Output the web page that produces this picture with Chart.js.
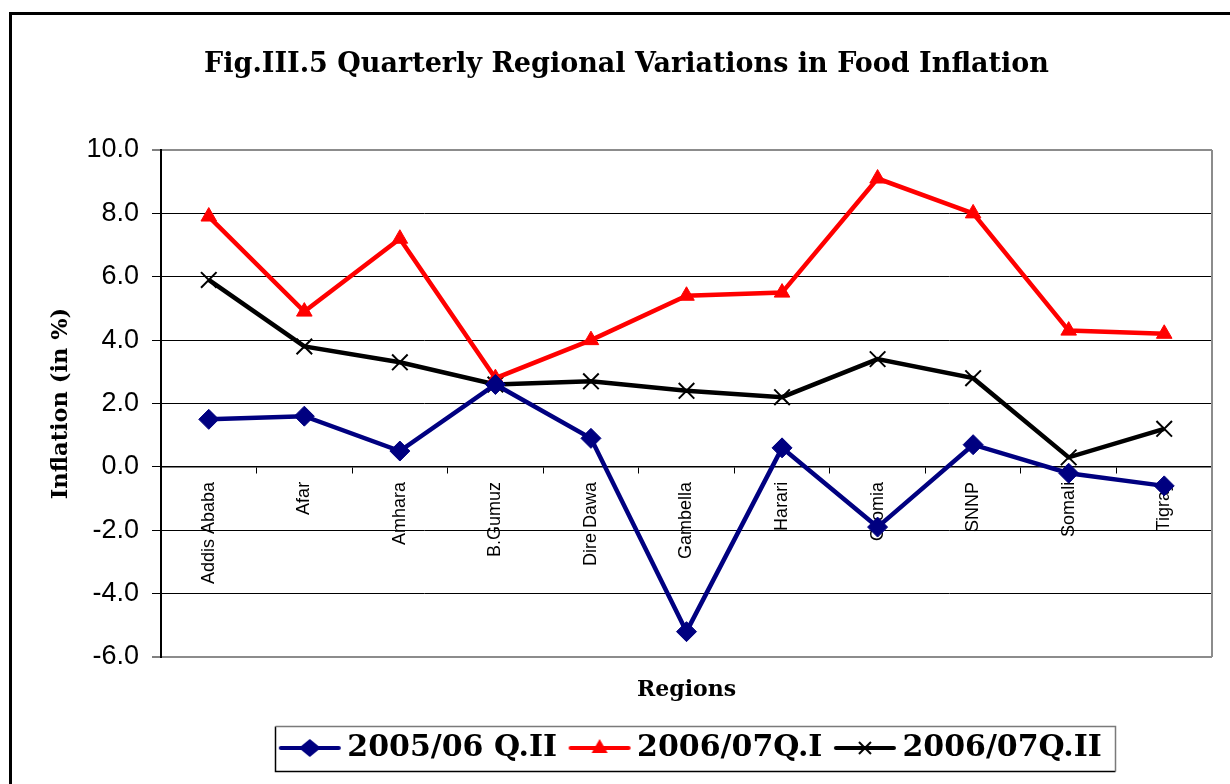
<!DOCTYPE html>
<html>
<head>
<meta charset="utf-8">
<title>Quarterly Regional Variations in Food Inflation</title>
<script src="https://cdn.jsdelivr.net/npm/chart.js@4.4.1/dist/chart.umd.min.js"></script>
<style>
  html, body { margin: 0; padding: 0; background: #fff; overflow: hidden; }
  #wrap { position: relative; width: 1230px; height: 784px; overflow: hidden; }
  #frame { position: absolute; left: 9px; top: 12px; width: 1400px; height: 900px;
           border-left: 3px solid #000; border-top: 3px solid #000; }
  #chart { position: absolute; left: 0; top: 0; }
</style>
</head>
<body>
<div id="wrap">
  <div id="frame"></div>
  <canvas id="chart" width="1230" height="784"></canvas>
</div>
<script>
// data
const regions = ["Addis Ababa", "Afar", "Amhara", "B.Gumuz", "Dire Dawa", "Gambella",
                 "Harari", "Oromia", "SNNP", "Somali", "Tigray"];
const q2_0506 = [1.5, 1.6, 0.5, 2.6, 0.9, -5.2, 0.6, -1.9, 0.7, -0.2, -0.6];
const q1_0607 = [7.9, 4.9, 7.2, 2.8, 4.0, 5.4, 5.5, 9.1, 8.0, 4.3, 4.2];
const q2_0607 = [5.9, 3.8, 3.3, 2.6, 2.7, 2.4, 2.2, 3.4, 2.8, 0.3, 1.2];
const seriesNames = ["2005/06 Q.II", "2006/07Q.I", "2006/07Q.II"];
const yMin = -6, yMax = 10, yStep = 2;

const NAVY = "#000080", RED = "#ff0000", BLACK = "#000000";
const serif = "'DejaVu Serif', 'Liberation Serif', serif";

Chart.defaults.font.family = "'Liberation Sans', Arial, sans-serif";
Chart.defaults.color = "#000";

// small line+marker pictures for the legend
function legendSample(color, style) {
  const c = document.createElement("canvas");
  c.width = 64; c.height = 30;
  const g = c.getContext("2d");
  const cx = 32, cy = 15;
  g.strokeStyle = color; g.fillStyle = color;
  g.lineWidth = 4; g.lineCap = "round";
  g.beginPath(); g.moveTo(3, cy); g.lineTo(61, cy); g.stroke();
  g.beginPath();
  if (style === "diamond") {
    g.moveTo(cx, cy - 9); g.lineTo(cx + 11, cy); g.lineTo(cx, cy + 9); g.lineTo(cx - 11, cy);
    g.closePath(); g.fill();
  } else if (style === "triangle") {
    g.moveTo(cx, cy - 9); g.lineTo(cx + 8, cy + 5); g.lineTo(cx - 8, cy + 5); g.closePath(); g.fill();
  } else {
    g.lineWidth = 2; g.lineCap = "butt";
    g.moveTo(cx - 6, cy - 6); g.lineTo(cx + 6, cy + 6);
    g.moveTo(cx + 6, cy - 6); g.lineTo(cx - 6, cy + 6); g.stroke();
  }
  return c;
}
const samples = [legendSample(NAVY, "diamond"), legendSample(RED, "triangle"), legendSample(BLACK, "cross")];

const frameBits = {
  id: "frameBits",
  afterLayout(chart) {
    // legend sits right of the page centre in the original
    const lg = chart.legend;
    if (lg) { lg.left += 68; lg.right += 68; }
  },
  beforeDatasetsDraw(chart) {
    const { ctx, chartArea: a } = chart;
    ctx.save();
    ctx.strokeStyle = "#8c8c8c";
    ctx.lineWidth = 2;
    ctx.beginPath();
    ctx.moveTo(a.right, a.top); ctx.lineTo(a.right, a.bottom);
    ctx.stroke();
    ctx.restore();
  },
  afterDraw(chart) {
    const boxes = chart.legend && chart.legend.legendHitBoxes;
    if (!boxes || !boxes.length) return;
    const ctx = chart.ctx;
    let l = Infinity, r = -Infinity;
    boxes.forEach(b => { l = Math.min(l, b.left); r = Math.max(r, b.left + b.width); });
    const mid = boxes[0].top + boxes[0].height / 2;
    const t = Math.round(mid - 22) + 0.5, bt = Math.round(mid + 23) + 0.5;
    l = Math.round(l - 12) + 0.5; r = Math.round(r + 13) + 0.5;
    ctx.save();
    ctx.lineWidth = 1.5;
    ctx.strokeStyle = "#000";
    ctx.beginPath();
    ctx.moveTo(l, t); ctx.lineTo(l, bt); ctx.lineTo(r, bt);
    ctx.stroke();
    ctx.strokeStyle = "#7a7a7a";
    ctx.beginPath();
    ctx.moveTo(l, t); ctx.lineTo(r, t); ctx.lineTo(r, bt);
    ctx.stroke();
    ctx.restore();
  }
};

new Chart(document.getElementById("chart"), {
  type: "line",
  data: {
    labels: regions,
    datasets: [
      { label: seriesNames[0], data: q2_0506, borderColor: NAVY, backgroundColor: NAVY,
        borderWidth: 4.5, pointStyle: "rectRot", pointRadius: 10, pointBorderWidth: 1 },
      { label: seriesNames[1], data: q1_0607, borderColor: RED, backgroundColor: RED,
        borderWidth: 4.5, pointStyle: "triangle", pointRadius: 9, pointBorderWidth: 1 },
      { label: seriesNames[2], data: q2_0607, borderColor: BLACK, backgroundColor: BLACK,
        borderWidth: 4.5, pointStyle: "crossRot", pointRadius: 11, pointBorderWidth: 2 }
    ]
  },
  options: {
    responsive: false,
    animation: false,
    layout: { padding: { left: 41, right: 18, top: 0, bottom: 11 } },
    elements: { line: { tension: 0 } },
    scales: {
      x: {
        type: "category",
        position: { y: 0 },
        offset: true,
        grid: { display: true, drawOnChartArea: false, offset: true, tickLength: 6, color: "#000" },
        border: { display: true, color: "#000", width: 1.5 },
        ticks: { autoSkip: false, minRotation: 90, maxRotation: 90, padding: 9,
                 font: { size: 18 }, color: "#000" }
      },
      x2: {
        type: "category",
        position: "bottom",
        offset: true,
        grid: { display: false, drawTicks: false },
        border: { display: false },
        ticks: { display: false },
        title: { display: true, text: "Regions", color: "#000",
                 font: { family: serif, weight: "bold", size: 22 },
                 padding: { top: 19.6, bottom: 10 } }
      },
      y: {
        min: yMin, max: yMax,
        ticks: { stepSize: yStep, padding: 13, color: "#000", font: { size: 27 },
                 callback: v => Number(v).toFixed(1) },
        grid: {
          color: c => (c.tick && (c.tick.value === yMin || c.tick.value === yMax)) ? "#8c8c8c" : "#000",
          lineWidth: c => (c.tick && (c.tick.value === yMin || c.tick.value === yMax)) ? 2 : 1,
          tickLength: 9, tickColor: "#000", tickWidth: 1
        },
        border: { color: "#000", width: 2 },
        title: { display: true, text: "Inflation (in %)", color: "#000",
                 font: { family: serif, weight: "bold", size: 22.5 },
                 padding: { top: 6.5, bottom: 0 } },
        afterFit: s => { s.width = 120; }
      }
    },
    plugins: {
      title: {
        display: true,
        text: "Fig.III.5 Quarterly Regional Variations in Food Inflation",
        color: "#000",
        font: { family: serif, weight: "bold", size: 27 },
        padding: { top: 49, bottom: 68.6 }
      },
      legend: {
        position: "bottom",
        labels: {
          usePointStyle: true,
          pointStyleWidth: 45,
          padding: 20,
          color: "#000",
          font: { family: serif, weight: "bold", size: 30 },
          generateLabels: chart =>
            Chart.defaults.plugins.legend.labels.generateLabels(chart).map((it, i) =>
              Object.assign(it, { pointStyle: samples[i], rotation: 0 }))
        }
      },
      tooltip: { enabled: false }
    }
  },
  plugins: [frameBits]
});
</script>
</body>
</html>
